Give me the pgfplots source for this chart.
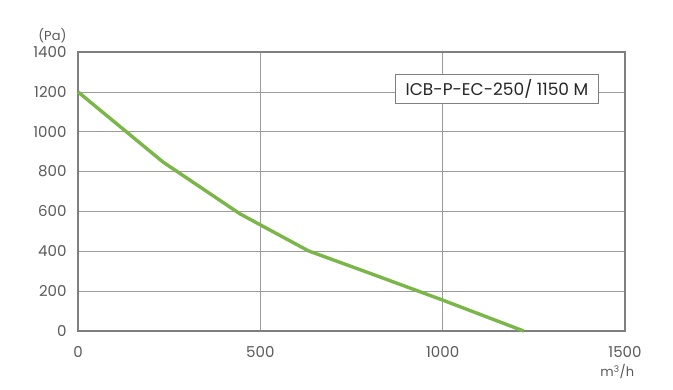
\documentclass[border=0pt]{standalone}
\usepackage{pgfplots}
\pgfplotsset{compat=1.18}
\usepackage{fontspec}
\setmainfont{Poppins}
\definecolor{curve}{HTML}{7AB648}
\definecolor{gridc}{HTML}{9A9A9A}
\definecolor{framec}{HTML}{7F7F7F}
\definecolor{txt}{HTML}{5A5A5A}
\begin{document}
\begin{tikzpicture}
\path[use as bounding box] (0,0) rectangle (673pt,390pt);
\begin{axis}[
  at={(78pt,59pt)}, anchor=south west,
  scale only axis, width=547pt, height=279pt,
  xmin=0, xmax=1500, ymin=0, ymax=1400,
  xtick={0,500,1000,1500}, ytick={0,200,...,1400},
  grid=major,
  major grid style={draw=gridc, line width=0.6pt},
  axis line style={draw=framec, line width=1.4pt},
  tick style={draw=none},
  /pgf/number format/assume math mode=true,
  /pgf/number format/1000 sep={},
  ticklabel style={font=\fontsize{15}{17}\selectfont, text=txt},
  xticklabel style={yshift=-12pt},
  yticklabel style={xshift=-8pt},
  clip=false,
]
\addplot[curve, line width=3.4pt, line join=round] coordinates {
  (0,1200) (233,848) (444,588) (632,402) (800,290) (1000,155) (1222,0)
};
\node[draw=framec, line width=1.3pt, fill=white, inner xsep=10pt, inner ysep=5pt,
      font=\fontsize{17}{19}\selectfont, text=black!85] at (axis cs:1149,1214) {ICB-P-EC-250/ 1150 M};
\node[anchor=south east, font=\fontsize{13}{15}\selectfont, text=txt] at (axis cs:-22,1430) {(Pa)};
\node[anchor=north east, font=\fontsize{13}{15}\selectfont, text=txt] at (axis cs:1535,-150) {m\textsuperscript{3}/h};
\end{axis}
\end{tikzpicture}
\end{document}
